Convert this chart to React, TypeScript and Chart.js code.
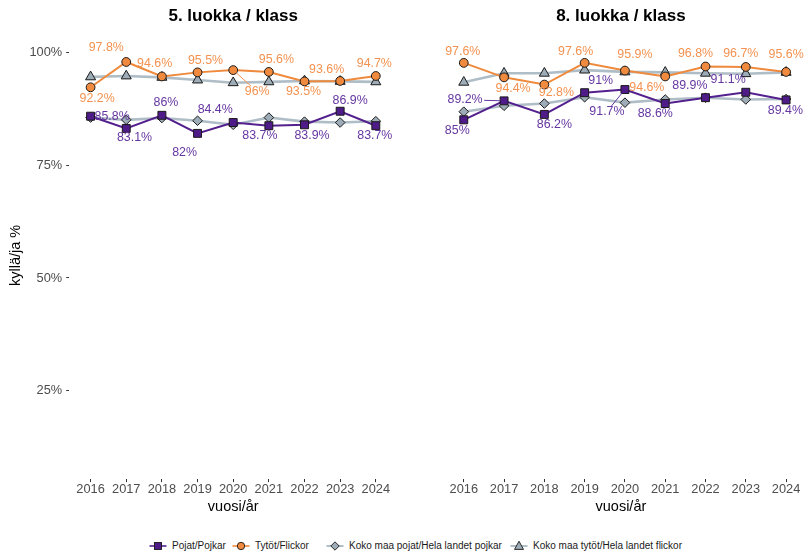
import React, { useEffect, useRef } from 'react';
import { Chart, registerables } from 'chart.js';

Chart.register(...registerables);

const FONT = '"Liberation Sans", Arial, Helvetica, sans-serif';

// ---- data ----
const years = [2016, 2017, 2018, 2019, 2020, 2021, 2022, 2023, 2024];
const yTickValues = [25, 50, 75, 100];

const seriesNames = [
  'Pojat/Pojkar',
  'Tytöt/Flickor',
  'Koko maa pojat/Hela landet pojkar',
  'Koko maa tytöt/Hela landet flickor',
];
const panelTitles = ['5. luokka / klass', '8. luokka / klass'];
const xTitle = 'vuosi/år';
const yTitle = 'kyllä/ja %';

// 5. luokka
const g5Boys = [85.8, 83.1, 86, 82, 84.4, 83.7, 83.9, 86.9, 83.7];
const g5Girls = [92.2, 97.8, 94.6, 95.5, 96, 95.6, 93.5, 93.6, 94.7];
const g5NatBoys = [85.5, 85.0, 85.4, 84.8, 83.9, 85.5, 84.6, 84.4, 84.7];
const g5NatGirls = [94.5, 94.7, 94.4, 93.8, 93.2, 93.4, 93.6, 93.5, 93.4];

// 8. luokka
const g8Boys = [85, 89.2, 86.2, 91, 91.7, 88.6, 89.9, 91.1, 89.4];
const g8Girls = [97.6, 94.4, 92.8, 97.6, 95.9, 94.6, 96.8, 96.7, 95.6];
const g8NatBoys = [86.8, 88.1, 88.6, 90.0, 88.8, 89.5, 89.9, 89.5, 89.6];
const g8NatGirls = [93.3, 95.3, 95.3, 96.0, 95.6, 95.5, 95.3, 95.2, 95.5];

// ---- label placement (pixel offsets from the point, like ggrepel), [dx, dy, leaderLine] ----
const g5GirlsLabelPos = [[6.5, 11], [-20, -14], [-7.3, -12.4], [8, -12], [24, 21.6, 1], [7.5, -12], [-1, 10.3], [-13.5, -11.5], [-1.5, -12.7]];
const g5BoysLabelPos = [[21.5, 0], [8.3, 9.6], [4, -12.6], [-13, 19], [-18, -12.5], [-9, 10.3], [7.5, 11], [10, -11], [-1, 10.3]];
const g8GirlsLabelPos = [[-1, -11], [9, 11], [12, 8.5], [-9, -11], [10, -15.5], [-18.4, 11.6], [-10, -13], [-5, -13.5], [0, -17]];
const g8BoysLabelPos = [[-6.5, 11], [-39, -1, 1], [10, 10.6], [16, -12.3], [-18, 22, 1], [-10, 9.8], [-15.6, -12.6], [-17.7, -12.2], [-0.7, 10.8]];

// ---- styles ----
const PURPLE = '#54208e';
const PURPLE_FILL = '#4e1b88';
const PURPLE_TEXT = '#6536a0';
const ORANGE = '#ef8a3d';
const ORANGE_FILL = '#f08a3e';
const ORANGE_TEXT = '#f39250';
const GREY_LINE = '#afbdc6';
const GREY_FILL = '#9dacb6';
const EDGE = '#1a1a1a';
const LABEL_SIZE = 12.4;
const TICK_SIZE = 12.8;

const labelPlugin = {
  id: 'repelLabels',
  afterDatasetsDraw(chart: any) {
    const ctx = chart.ctx;
    chart.data.datasets.forEach((ds: any, di: number) => {
      if (!ds.labelPos) return;
      const meta = chart.getDatasetMeta(di);
      ctx.save();
      ctx.font = `${LABEL_SIZE}px ${FONT}`;
      ctx.fillStyle = ds.labelColor;
      ctx.strokeStyle = ds.labelColor;
      ctx.lineWidth = 1;
      ctx.textAlign = 'center';
      ctx.textBaseline = 'middle';
      meta.data.forEach((el: any, i: number) => {
        const pos = ds.labelPos[i];
        if (!pos) return;
        const text = String(ds.data[i].y) + '%';
        const lx = el.x + pos[0];
        const ly = el.y + pos[1];
        if (pos[2]) {
          const w = ctx.measureText(text).width;
          const hw = w / 2 + 1.5;
          const hh = LABEL_SIZE * 0.45;
          const ddx = el.x - lx;
          const ddy = el.y - ly;
          const len = Math.hypot(ddx, ddy);
          const t = Math.min(ddx !== 0 ? hw / Math.abs(ddx) : Infinity, ddy !== 0 ? hh / Math.abs(ddy) : Infinity);
          const sx = lx + ddx * t;
          const sy = ly + ddy * t;
          const ex = el.x - (ddx / len) * 4;
          const ey = el.y - (ddy / len) * 4;
          ctx.beginPath();
          ctx.moveTo(sx, sy);
          ctx.lineTo(ex, ey);
          ctx.stroke();
        }
        ctx.fillText(text, lx, ly);
      });
      ctx.restore();
    });
  },
};

function toPoints(arr: number[]) {
  return years.map((yr, i) => ({ x: yr, y: arr[i] }));
}

function buildDatasets(boys: number[], girls: number[], natBoys: number[], natGirls: number[], boysPos: any[], girlsPos: any[]) {
  return [
    {
      label: seriesNames[0],
      data: toPoints(boys),
      borderColor: PURPLE,
      borderWidth: 2,
      pointStyle: 'rect',
      pointRadius: 5.6,
      pointBackgroundColor: PURPLE_FILL,
      pointBorderColor: EDGE,
      pointBorderWidth: 1,
      labelPos: boysPos,
      labelColor: PURPLE_TEXT,
    },
    {
      label: seriesNames[1],
      data: toPoints(girls),
      borderColor: ORANGE,
      borderWidth: 2,
      pointStyle: 'circle',
      pointRadius: 4.4,
      pointBackgroundColor: ORANGE_FILL,
      pointBorderColor: EDGE,
      pointBorderWidth: 1,
      labelPos: girlsPos,
      labelColor: ORANGE_TEXT,
    },
    {
      label: seriesNames[2],
      data: toPoints(natBoys),
      borderColor: GREY_LINE,
      borderWidth: 2.6,
      pointStyle: 'rectRot',
      pointRadius: 4.8,
      pointBackgroundColor: GREY_FILL,
      pointBorderColor: EDGE,
      pointBorderWidth: 1,
    },
    {
      label: seriesNames[3],
      data: toPoints(natGirls),
      borderColor: GREY_LINE,
      borderWidth: 2.6,
      pointStyle: 'triangle',
      pointRadius: 5.8,
      pointBackgroundColor: GREY_FILL,
      pointBorderColor: EDGE,
      pointBorderWidth: 1,
    },
  ];
}

const CANVAS_H = 525;
const AREA_TOP = 31.7;
const AREA_BOTTOM = 479.1;

function buildOptions(title: string, showY: boolean, xMin: number, xMax: number, padding: any) {
  return {
    responsive: false,
    maintainAspectRatio: false,
    animation: false,
    devicePixelRatio: 1,
    layout: { padding },
    elements: { line: { tension: 0 } },
    plugins: {
      legend: { display: false },
      tooltip: { enabled: false },
      title: {
        display: true,
        text: title,
        fullSize: false,
        color: '#000',
        font: { family: FONT, size: 17, weight: 'bold', lineHeight: 1.2 },
        padding: { top: 6.5, bottom: AREA_TOP - 6.5 - 20.4 },
      },
    },
    scales: {
      x: {
        type: 'linear',
        min: xMin,
        max: xMax,
        afterBuildTicks: (axis: any) => {
          axis.ticks = years.map((v) => ({ value: v }));
        },
        afterFit: (s: any) => {
          s.height = CANVAS_H - AREA_BOTTOM;
        },
        ticks: {
          callback: (v: any) => String(v),
          color: '#4d4d4d',
          font: { family: FONT, size: TICK_SIZE },
          padding: 0,
          maxRotation: 0,
          autoSkip: false,
        },
        grid: { display: true, drawOnChartArea: false, drawTicks: true, tickLength: 3, color: '#333', lineWidth: 1 },
        border: { display: false },
        title: {
          display: true,
          text: xTitle,
          color: '#000',
          font: { family: FONT, size: 14.5, lineHeight: 1.2 },
          padding: { top: 0, bottom: 9.3 },
        },
      },
      y: {
        type: 'linear',
        display: showY,
        min: 5.5,
        max: 104.5,
        afterBuildTicks: (axis: any) => {
          axis.ticks = yTickValues.map((v) => ({ value: v }));
        },
        afterFit: (s: any) => {
          if (showY) s.width = 69.2;
        },
        ticks: {
          callback: (v: any) => v + '%',
          color: '#4d4d4d',
          font: { family: FONT, size: TICK_SIZE },
          padding: 4,
        },
        grid: { display: true, drawOnChartArea: false, drawTicks: true, tickLength: 3, color: '#333', lineWidth: 1 },
        border: { display: false },
        title: {
          display: true,
          text: yTitle,
          color: '#000',
          font: { family: FONT, size: 14.5, lineHeight: 1.2 },
          padding: { top: 7.3, bottom: 0 },
        },
      },
    },
  };
}

function LegendGlyph({ kind }: { kind: number }) {
  const line = [PURPLE, ORANGE, GREY_LINE, GREY_LINE][kind];
  let marker: any = null;
  if (kind === 0) marker = <rect x={5.5} y={2.5} width={7} height={7} fill={PURPLE_FILL} stroke={EDGE} strokeWidth={0.9} />;
  if (kind === 1) marker = <circle cx={9} cy={6} r={3.7} fill={ORANGE_FILL} stroke={EDGE} strokeWidth={0.9} />;
  if (kind === 2) marker = <polygon points="9,1.8 13.2,6 9,10.2 4.8,6" fill={GREY_FILL} stroke={EDGE} strokeWidth={0.9} />;
  if (kind === 3) marker = <polygon points="9,1.2 13.5,9.4 4.5,9.4" fill={GREY_FILL} stroke={EDGE} strokeWidth={0.9} />;
  return (
    <svg width={18} height={12} style={{ display: 'block' }}>
      <line x1={0.5} y1={6} x2={17.5} y2={6} stroke={line} strokeWidth={kind >= 2 ? 2 : 1.6} />
      {marker}
    </svg>
  );
}

const legendLefts = [149, 232, 326, 510];

export default function App() {
  const leftRef = useRef<HTMLCanvasElement | null>(null);
  const rightRef = useRef<HTMLCanvasElement | null>(null);

  useEffect(() => {
    Chart.defaults.font.family = FONT;
    const left = new Chart(leftRef.current as HTMLCanvasElement, {
      type: 'line',
      data: { datasets: buildDatasets(g5Boys, g5Girls, g5NatBoys, g5NatGirls, g5BoysLabelPos, g5GirlsLabelPos) as any },
      options: buildOptions(panelTitles[0], true, 2015.4, 2024.6, { left: 0, right: 0, top: 0, bottom: 0 }) as any,
      plugins: [labelPlugin],
    });
    const right = new Chart(rightRef.current as HTMLCanvasElement, {
      type: 'line',
      data: { datasets: buildDatasets(g8Boys, g8Girls, g8NatBoys, g8NatGirls, g8BoysLabelPos, g8GirlsLabelPos) as any },
      options: buildOptions(panelTitles[1], false, 2015.4, 2024.4, { left: 35.6, right: 3.8, top: 0, bottom: 0 }) as any,
      plugins: [labelPlugin],
    });
    return () => {
      left.destroy();
      right.destroy();
    };
  }, []);

  return (
    <div style={{ position: 'absolute', left: 0, top: 0, width: 809, height: 552, background: '#fff', overflow: 'hidden', fontFamily: FONT }}>
      <canvas ref={leftRef} width={404} height={CANVAS_H} style={{ position: 'absolute', left: 0, top: 0 }} />
      <canvas ref={rightRef} width={405} height={CANVAS_H} style={{ position: 'absolute', left: 404, top: 0 }} />
      {seriesNames.map((name, i) => (
        <div
          key={name}
          style={{ position: 'absolute', left: legendLefts[i], top: 540, height: 12, display: 'flex', alignItems: 'center', gap: 5, whiteSpace: 'nowrap' }}
        >
          <LegendGlyph kind={i} />
          <span style={{ fontSize: 10, color: '#1a1a1a', lineHeight: '12px' }}>{name}</span>
        </div>
      ))}
    </div>
  );
}
